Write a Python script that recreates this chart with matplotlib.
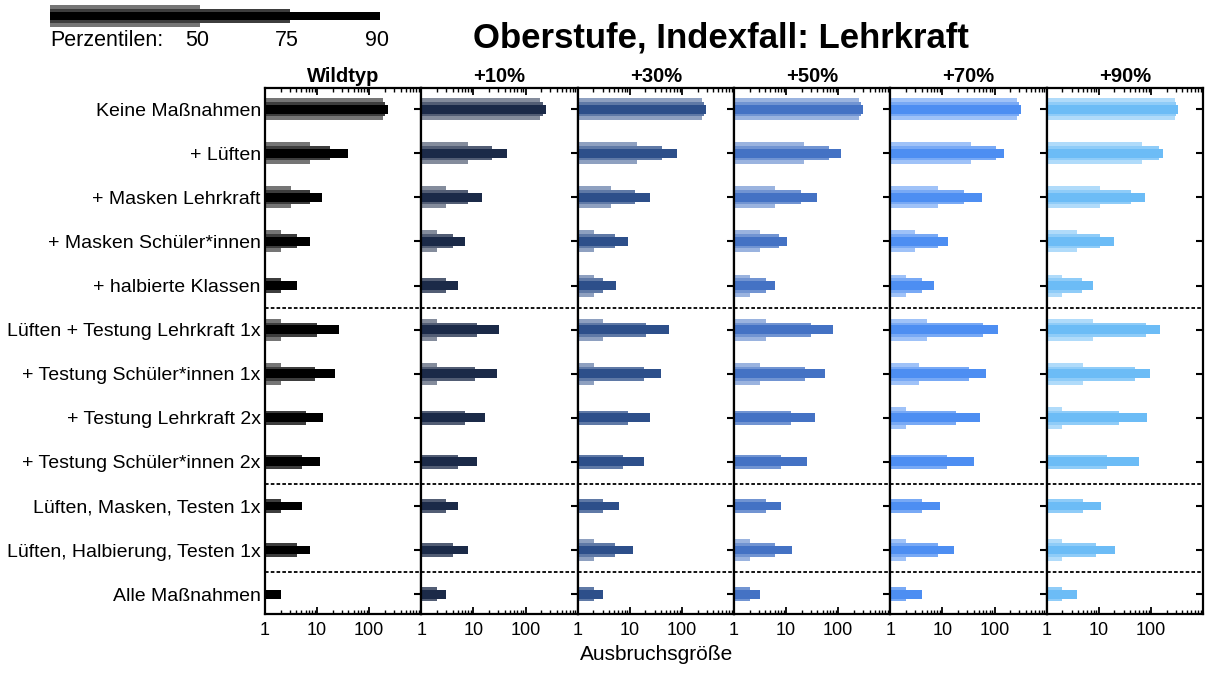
import numpy as np
import matplotlib
matplotlib.use("Agg")
import matplotlib.pyplot as plt
from matplotlib.ticker import FixedLocator, LogLocator, NullFormatter
from matplotlib.colors import to_rgb

plt.rcParams['font.family'] = ['Liberation Sans', 'DejaVu Sans']

# ---------------- data ----------------
categories = [
    "Keine Maßnahmen",
    "+ Lüften",
    "+ Masken Lehrkraft",
    "+ Masken Schüler*innen",
    "+ halbierte Klassen",
    "Lüften + Testung Lehrkraft 1x",
    "+ Testung Schüler*innen 1x",
    "+ Testung Lehrkraft 2x",
    "+ Testung Schüler*innen 2x",
    "Lüften, Masken, Testen 1x",
    "Lüften, Halbierung, Testen 1x",
    "Alle Maßnahmen",
]
scenarios = ["Wildtyp", "+10%", "+30%", "+50%", "+70%", "+90%"]
scenario_colors = ["#000000", "#1b2a48", "#2d4f8a", "#4472c4", "#4d8ef2", "#6cbcf6"]

# 50th percentile per scenario (rows follow `categories`)
p50 = [
    [182, 7.2, 3.1, 2.0, 1.0, 2.0, 2.0, 1.0, 1.0, 1.0, 1.0, 1.0],
    [191, 7.9, 3.0, 2.0, 1.0, 2.0, 2.0, 1.0, 1.0, 1.0, 1.0, 1.0],
    [238, 13.6, 4.3, 2.1, 2.1, 3.1, 2.1, 1.0, 1.0, 1.0, 2.1, 1.0],
    [251, 22.4, 6.2, 3.1, 2.05, 4.1, 3.1, 1.0, 1.0, 1.0, 2.05, 1.0],
    [267, 36, 8.1, 3.0, 1.96, 5.1, 3.5, 1.96, 1.0, 1.0, 1.96, 1.0],
    [285, 68, 10.4, 3.9, 1.94, 7.8, 4.9, 1.94, 1.0, 1.0, 1.94, 1.0],
]
# 75th percentile
p75 = [
    [205, 18, 7.2, 4.1, 2.0, 10, 9.0, 6.1, 5.2, 2.0, 4.1, 1.0],
    [215, 22.7, 7.9, 4.0, 3.0, 11.8, 10.9, 6.8, 5.0, 3.0, 4.0, 2.0],
    [262, 41.5, 12.8, 5.2, 3.1, 20.5, 18.8, 9.4, 7.4, 3.1, 5.2, 2.1],
    [275, 67, 19.4, 7.2, 4.1, 30, 23.4, 12.3, 8.1, 4.1, 6.2, 2.05],
    [292, 106, 26, 8.1, 4.0, 60, 33, 18.5, 12.1, 4.1, 8.1, 1.96],
    [300, 142, 42, 10.4, 4.8, 79, 49, 24.5, 14.6, 4.9, 9.0, 1.94],
]
# 90th percentile
p90 = [
    [234, 40, 12.3, 7.2, 4.1, 26, 22.4, 13, 11.2, 5.2, 7.2, 2.0],
    [245, 45, 14.6, 6.8, 5.0, 31, 28, 16.7, 11.8, 5.0, 7.9, 3.0],
    [288, 81, 24, 9.4, 5.4, 57, 39, 24, 18.8, 6.3, 11.4, 3.1],
    [300, 115, 39, 10.3, 6.2, 78, 56, 36, 25.7, 8.1, 13.2, 3.1],
    [318, 150, 58, 13, 7.0, 119, 69, 53, 41, 9.0, 17, 4.1],
    [325, 174, 78, 19.7, 7.8, 150, 96, 85, 60, 10.8, 20.5, 3.9],
]
separators = [4.5, 8.5, 10.5]
xtick_values = [1, 10, 100, 1000]
xtick_labels = ["1", "10", "100", ""]
legend_labels = ["50", "75", "90"]
legend_ends = [1.0, 1.6, 2.2]

title = "Oberstufe, Indexfall: Lehrkraft"
xlabel = "Ausbruchsgröße"


def tint(c, a):
    r = np.array(to_rgb(c))
    return tuple(1 - a * (1 - r))


H_WIDE, H_MID, H_THIN = 0.5, 0.32, 0.2
A_WIDE, A_MID = 0.54, 0.76

W, Hh = 1205, 674
fig = plt.figure(figsize=(W / 100, Hh / 100), dpi=100)

left0 = 265 / W
pw = (1203 - 265) / 6 / W
bottom = 1 - 614 / Hh
height = (614 - 88) / Hh

ypos = np.arange(len(categories))
for i, name in enumerate(scenarios):
    ax = fig.add_axes([left0 + i * pw, bottom, pw, height])
    c = scenario_colors[i]
    ax.set_xscale('log')
    ax.barh(ypos, np.array(p50[i]) - 1, left=1, height=H_WIDE,
            color=tint(c, A_WIDE), linewidth=0, zorder=2)
    ax.barh(ypos, np.array(p75[i]) - 1, left=1, height=H_MID,
            color=tint(c, A_MID), linewidth=0, zorder=3)
    ax.barh(ypos, np.array(p90[i]) - 1, left=1, height=H_THIN,
            color=c, linewidth=0, zorder=4)
    for s in separators:
        ax.axhline(s, color='black', lw=1.3, ls=(0, (2, 1.2)), zorder=5)
    ax.set_xlim(1, 1000)
    ax.set_ylim(11.45, -0.48)

    ax.xaxis.set_major_locator(FixedLocator(xtick_values))
    ax.set_xticklabels(xtick_labels)
    ax.xaxis.set_minor_locator(LogLocator(base=10, subs=np.arange(2, 10)))
    ax.xaxis.set_minor_formatter(NullFormatter())
    ax.tick_params(axis='x', which='major', direction='in', top=True, bottom=True,
                   length=5, width=1.3, labelsize=13, pad=6)
    ax.tick_params(axis='x', which='minor', direction='in', top=True, bottom=True,
                   length=3, width=1.0)

    ax.set_yticks(ypos)
    if i == 0:
        ax.set_yticklabels(categories)
    else:
        ax.set_yticklabels([])
    ax.tick_params(axis='y', which='both', direction='in', left=False, right=True,
                   length=5, width=1.5, labelsize=14, pad=3,
                   labelleft=(i == 0))
    for sp in ax.spines.values():
        sp.set_linewidth(1.6)
        sp.set_zorder(6)
    ax.set_title(name, fontsize=14.5, fontweight='bold', pad=4)

fig.text(657 / W, 1 - 655 / Hh, xlabel, ha='center', va='center', fontsize=15)
fig.text(721 / W, 1 - 38 / Hh, title, ha='center', va='center',
         fontsize=25, fontweight='bold')

# legend bar
lax = fig.add_axes([50 / W, 1 - 32 / Hh, 330 / W, 32 / Hh])
lax.barh(0, legend_ends[0], height=H_WIDE, color=tint('#000000', A_WIDE), linewidth=0)
lax.barh(0, legend_ends[1], height=H_MID, color=tint('#000000', A_MID), linewidth=0)
lax.barh(0, legend_ends[2], height=H_THIN, color='#000000', linewidth=0)
lax.set_xlim(0, legend_ends[2])
lax.set_ylim(-16 / 44, 16 / 44)
lax.axis('off')
fig.text(50 / W, 1 - 41 / Hh, "Perzentilen:", ha='left', va='center', fontsize=15.5)
for lab, e in zip(legend_labels, legend_ends):
    xf = (50 + 330 * e / legend_ends[2] - 3) / W
    fig.text(xf, 1 - 41 / Hh, lab, ha='center', va='center', fontsize=15.5)

fig.savefig("out.png", dpi=100, facecolor='white')
